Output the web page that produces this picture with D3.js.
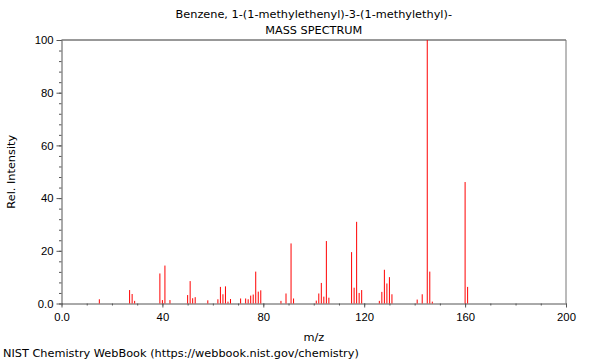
<!DOCTYPE html>
<html>
  <head>
    <meta charset="utf-8">
    <title>Mass spectrum</title>
    <script src="https://cdn.jsdelivr.net/npm/d3@7"></script>
    <style>
      body { margin: 0; background: #fff; }
      svg { font-family: "DejaVu Sans", sans-serif; }
      .axis path, .axis line { stroke: #555; }
      .axis text { font-size: 11.3px; fill: #000; }
      .label { font-size: 11.3px; }
      .peak { stroke: #ff0000; stroke-width: 1; }
    </style>
  </head>
  <body>
    <svg id="chart" width="600" height="360"></svg>

    <script>
      // peaks
      mz = [15, 27, 28, 29, 39, 40, 41, 43, 50, 51, 52, 53, 58, 62, 63, 64, 65, 66, 67,
            71, 73, 74, 75, 76, 77, 78, 79, 87, 89, 91, 92, 101, 102, 103, 104, 105, 106,
            115, 116, 117, 118, 119, 126, 127, 128, 129, 130, 131, 141, 143, 145, 146, 147,
            160, 161];
      intensity = [1.6, 5.1, 3.6, 1.0, 11.4, 1.3, 14.4, 1.3, 3.2, 8.5, 2.0, 2.4, 1.2, 1.6, 6.3, 3.5, 6.5, 0.7, 1.7,
                   1.9, 1.9, 1.6, 3.0, 3.4, 12.1, 4.5, 5.0, 1.0, 3.8, 22.8, 1.9, 1.1, 3.8, 7.8, 2.6, 23.7, 2.2,
                   19.5, 6.0, 31.0, 4.0, 5.1, 1.0, 4.4, 12.8, 7.6, 10.0, 3.5, 1.5, 3.5, 100, 12.1, 0.7,
                   46.1, 6.3];

      xTicks = [0, 40, 80, 120, 160, 200];
      xTickLabels = ["0.0", "40", "80", "120", "160", "200"];
      yTicks = [0, 20, 40, 60, 80, 100];
      yTickLabels = ["0.0", "20", "40", "60", "80", "100"];

      titleLine1 = "Benzene, 1-(1-methylethenyl)-3-(1-methylethyl)-";
      titleLine2 = "MASS SPECTRUM";
      footer = "NIST Chemistry WebBook (https://webbook.nist.gov/chemistry)";

      chart = d3.select("#chart");
      margin = { left: 61.5, right: 34, top: 40, bottom: 56.5 };
      width = 600;
      height = 360;

      x = d3.scaleLinear()
        .domain([0, 200])
        .range([margin.left, width - margin.right]);
      y = d3.scaleLinear()
        .domain([0, 100])
        .range([height - margin.bottom, margin.top]);

      // minor ticks
      chart.append("g")
        .attr("class", "axis")
        .attr("transform", "translate(0, " + y(0) + ")")
        .call(d3.axisBottom(x).tickValues(d3.range(0, 201, 10)).tickSize(2).tickFormat(""))
        .select("path").remove();
      chart.append("g")
        .attr("class", "axis")
        .attr("transform", "translate(" + x(0) + ", 0)")
        .call(d3.axisLeft(y).tickValues(d3.range(0, 101, 4)).tickSize(2.5).tickFormat(""))
        .select("path").remove();

      // major ticks
      chart.append("g")
        .attr("class", "axis")
        .attr("transform", "translate(0, " + y(0) + ")")
        .call(d3.axisBottom(x).tickValues(xTicks).tickSize(4).tickSizeOuter(0).tickPadding(5)
          .tickFormat(function(d, i) { return xTickLabels[i]; }));
      chart.append("g")
        .attr("class", "axis")
        .attr("transform", "translate(" + x(0) + ", 0)")
        .call(d3.axisLeft(y).tickValues(yTicks).tickSize(5).tickSizeOuter(0).tickPadding(3)
          .tickFormat(function(d, i) { return yTickLabels[i]; }));

      // frame top and right
      chart.append("line")
        .attr("x1", x(0)).attr("x2", x(200))
        .attr("y1", y(100)).attr("y2", y(100))
        .attr("stroke", "#333");
      chart.append("line")
        .attr("x1", x(200)).attr("x2", x(200))
        .attr("y1", y(100)).attr("y2", y(0))
        .attr("stroke", "#777");

      // peaks
      chart.append("g")
        .selectAll("line")
          .data(mz)
        .enter().append("line")
          .attr("class", "peak")
          .attr("x1", function(d) { return x(d); })
          .attr("x2", function(d) { return x(d); })
          .attr("y1", y(0))
          .attr("y2", function(d, i) { return y(intensity[i]); });

      // texts
      chart.append("text")
        .attr("class", "label")
        .attr("x", (x(0) + x(200)) / 2)
        .attr("y", 18)
        .attr("text-anchor", "middle")
        .text(titleLine1);
      chart.append("text")
        .attr("class", "label")
        .attr("x", (x(0) + x(200)) / 2)
        .attr("y", 34)
        .attr("text-anchor", "middle")
        .text(titleLine2);
      chart.append("text")
        .attr("class", "label")
        .attr("x", (x(0) + x(200)) / 2)
        .attr("y", 341)
        .attr("text-anchor", "middle")
        .text("m/z");
      chart.append("text")
        .attr("class", "label")
        .attr("transform", "translate(15, " + (y(0) + y(100)) / 2 + ") rotate(-90)")
        .attr("text-anchor", "middle")
        .text("Rel. Intensity");
      chart.append("text")
        .attr("class", "label")
        .attr("x", 3)
        .attr("y", 357)
        .text(footer);
    </script>
  </body>
</html>
